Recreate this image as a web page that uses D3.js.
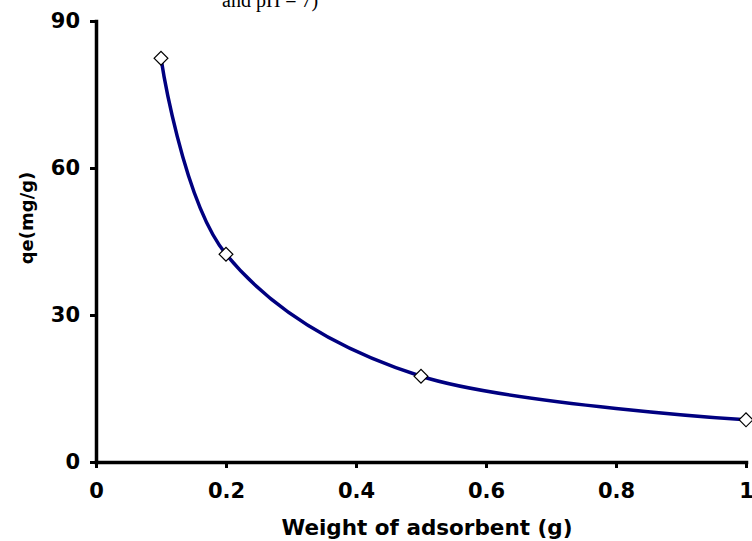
<!DOCTYPE html>
<html>
<head>
<meta charset="utf-8">
<script src="https://cdn.jsdelivr.net/npm/d3@7"></script>
<style>
  html, body { margin: 0; padding: 0; background: #fff; }
  svg { display: block; }
</style>
</head>
<body>
<script>
// Data
const weights = [0.1, 0.2, 0.5, 1.0];          // Weight of adsorbent (g)
const qe = [82.4, 42.4, 17.5, 8.6];           // qe (mg/g)
const xTicks = [0, 0.2, 0.4, 0.6, 0.8, 1];
const xTickLabels = ["0", "0.2", "0.4", "0.6", "0.8", "1"];
const yTicks = [0, 30, 60, 90];
const yTickLabels = ["0", "30", "60", "90"];
const titleText = "and pH = 7)";
const xTitle = "Weight of adsorbent (g)";
const yTitle = "qe(mg/g)";

const W = 752, H = 541;
const svg = d3.select("body").append("svg").attr("width", W).attr("height", H);

const x = d3.scaleLinear().domain([0, 1]).range([96, 746]);
const y = d3.scaleLinear().domain([0, 90]).range([462, 21]);

const font = "'DejaVu Sans', 'Open Sans', sans-serif";

// Title fragment (cut off at top)
svg.append("text")
  .attr("x", 222).attr("y", 7)
  .attr("font-family", "'Liberation Serif', 'Times New Roman', serif")
  .attr("font-size", 20)
  .attr("fill", "#000")
  .text(titleText);

// Axes
const xAxis = d3.axisBottom(x).tickValues(xTicks)
  .tickFormat((d, i) => xTickLabels[i]).tickSize(6).tickSizeOuter(0).tickPadding(15);
const yAxis = d3.axisLeft(y).tickValues(yTicks)
  .tickFormat((d, i) => yTickLabels[i]).tickSize(6).tickSizeOuter(0).tickPadding(10);

const gx = svg.append("g").attr("transform", `translate(0,${y(0)})`).call(xAxis);
const gy = svg.append("g").attr("transform", `translate(${x(0)},0)`).call(yAxis);

[gx, gy].forEach(g => {
  g.select(".domain").attr("stroke", "#000").attr("stroke-width", 3.5).attr("stroke-linecap", "square");
  g.selectAll(".tick line").attr("stroke", "#000").attr("stroke-width", 3);
  g.selectAll(".tick text")
    .attr("font-family", font).attr("font-weight", "bold")
    .attr("font-size", 21).attr("fill", "#000");
});

// Axis titles
svg.append("text")
  .attr("x", 427).attr("y", 535)
  .attr("text-anchor", "middle")
  .attr("font-family", font).attr("font-weight", "bold").attr("font-size", 21.5)
  .attr("fill", "#000")
  .text(xTitle);

svg.append("text")
  .attr("transform", `translate(33,218) rotate(-90)`)
  .attr("text-anchor", "middle")
  .attr("font-family", font).attr("font-weight", "bold").attr("font-size", 18)
  .attr("fill", "#000")
  .text(yTitle);

// Smoothed line
const pts = weights.map((w, i) => [w, qe[i]]);
const line = d3.line().x(d => x(d[0])).y(d => y(d[1])).curve(d3.curveCardinal.tension(0));
svg.append("path")
  .datum(pts)
  .attr("d", line)
  .attr("fill", "none")
  .attr("stroke", "#000080")
  .attr("stroke-width", 3.5);

// Diamond markers
svg.selectAll(".marker")
  .data(pts)
  .join("path")
  .attr("class", "marker")
  .attr("d", d3.symbol().type(d3.symbolSquare).size(95))
  .attr("transform", d => `translate(${x(d[0])},${y(d[1])}) rotate(45)`)
  .attr("fill", "#fff")
  .attr("stroke", "#000")
  .attr("stroke-width", 1.2);
</script>
</body>
</html>
